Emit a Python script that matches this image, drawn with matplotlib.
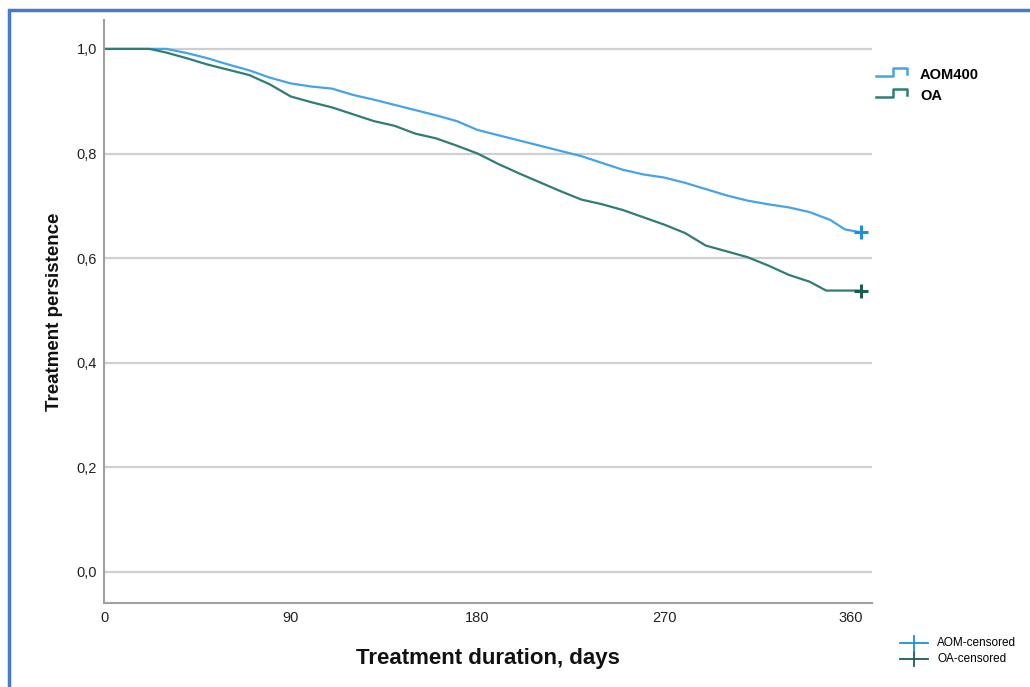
import matplotlib
matplotlib.use('Agg')
import matplotlib.pyplot as plt
from matplotlib.lines import Line2D
from matplotlib.patches import Rectangle

plt.rcParams['font.family'] = ['Liberation Sans', 'DejaVu Sans']

## Kaplan-Meier curves (days, persistence)
aom_days = [0, 30, 40, 50, 60, 70, 80, 90, 100, 110, 120, 130, 140, 150, 160, 170, 180,
            190, 200, 210, 220, 230, 240, 250, 260, 270, 280, 290, 300, 310, 320, 330,
            340, 350, 357, 365]
aom_surv = [1.0, 1.0, 0.992, 0.982, 0.97, 0.959, 0.945, 0.934, 0.928, 0.924, 0.912, 0.903,
            0.893, 0.883, 0.873, 0.862, 0.845, 0.835, 0.825, 0.815, 0.805, 0.795, 0.782,
            0.769, 0.760, 0.754, 0.744, 0.732, 0.72, 0.71, 0.703, 0.697, 0.688, 0.673,
            0.655, 0.649]

oa_days = [0, 22, 30, 40, 50, 60, 70, 80, 90, 100, 110, 120, 130, 140, 150, 160, 170, 180,
           190, 200, 210, 220, 230, 240, 250, 260, 270, 280, 290, 300, 310, 320, 330, 340,
           348, 365]
oa_surv = [1.0, 1.0, 0.993, 0.982, 0.97, 0.96, 0.95, 0.932, 0.909, 0.898, 0.888, 0.875,
           0.862, 0.853, 0.838, 0.829, 0.815, 0.80, 0.78, 0.762, 0.745, 0.728, 0.712,
           0.703, 0.692, 0.678, 0.664, 0.648, 0.624, 0.613, 0.602, 0.586, 0.568, 0.555,
           0.538, 0.538]

censor_day = 365
x_ticks = [0, 90, 180, 270, 360]
y_ticks = [0.0, 0.2, 0.4, 0.6, 0.8, 1.0]
y_tick_labels = ['0,0', '0,2', '0,4', '0,6', '0,8', '1,0']

aom_color = '#45a3ec'
oa_color = '#2f7d74'
aom_cens_color = '#1e8ee0'
oa_cens_color = '#1b5c54'
spine_color = '#a0a0a0'

fig = plt.figure(figsize=(10.3, 6.87), dpi=100)
ax = fig.add_axes((0.101, 0.1223, 0.7456, 0.8487))

for y in y_ticks:
    ax.axhline(y, color='#cfcfcf', linewidth=1.6, zorder=0)

## many tiny KM steps look like a jagged line at this size
ax.plot(aom_days, aom_surv, color=aom_color, linewidth=1.6)
ax.plot(oa_days, oa_surv, color=oa_color, linewidth=1.6)
ax.plot([censor_day], [aom_surv[-1]], marker='+', markersize=10, mew=2.2, color=aom_cens_color)
ax.plot([censor_day], [oa_surv[-1]], marker='+', markersize=10, mew=2.2, color=oa_cens_color)

ax.set_xlim(0, 370.1)
ax.set_ylim(-0.0593, 1.0554)
ax.set_xticks(x_ticks)
ax.set_xticklabels([str(t) for t in x_ticks], fontsize=10.5, color='#222222')
ax.set_yticks(y_ticks)
ax.set_yticklabels(y_tick_labels, fontsize=10.5, color='#222222')
ax.tick_params(axis='x', length=0, pad=6)
ax.tick_params(axis='y', length=0, pad=5)

for s in ['top', 'right']:
    ax.spines[s].set_visible(False)
for s in ['left', 'bottom']:
    ax.spines[s].set_color(spine_color)
    ax.spines[s].set_linewidth(1.5)

ax.set_ylabel('Treatment persistence', fontsize=13.5, labelpad=10, fontweight='bold', color='#111111')
ax.set_xlabel('Treatment duration, days', fontsize=16, labelpad=16, fontweight='bold', color='#111111')

## Top-right legend with step-shaped symbols
W, H = 1030.0, 687.0
def fx(px):
    return px / W
def fy(py):
    return 1 - py / H

for (ypix, col, name) in [(76, aom_color, 'AOM400'), (97, oa_color, 'OA')]:
    xs = [876, 893, 893, 907, 907]
    ys = [ypix, ypix, ypix - 8, ypix - 8, ypix - 2]
    fig.add_artist(Line2D([fx(v) for v in xs], [fy(v) for v in ys], color=col, linewidth=1.8))
    fig.text(fx(920), fy(ypix - 1), name, fontsize=10.5, fontweight='bold', va='center')

## Bottom-right legend for censored marks
for (ypix, col, name) in [(643, aom_cens_color, 'AOM-censored'), (659, oa_cens_color, 'OA-censored')]:
    fig.add_artist(Line2D([fx(900), fx(928)], [fy(ypix), fy(ypix)], color=col, linewidth=1.3))
    fig.add_artist(Line2D([fx(914), fx(914)], [fy(ypix - 7), fy(ypix + 7)], color=col, linewidth=1.3))
    fig.text(fx(937), fy(ypix), name, fontsize=8.5, va='center')

## Blue frame around the whole picture
fig.add_artist(Rectangle((fx(9), fy(720)), fx(1100), fy(10) - fy(720), transform=fig.transFigure,
                         fill=False, edgecolor='#4a78d0', linewidth=2.5))

fig.savefig('out.png', dpi=100)
